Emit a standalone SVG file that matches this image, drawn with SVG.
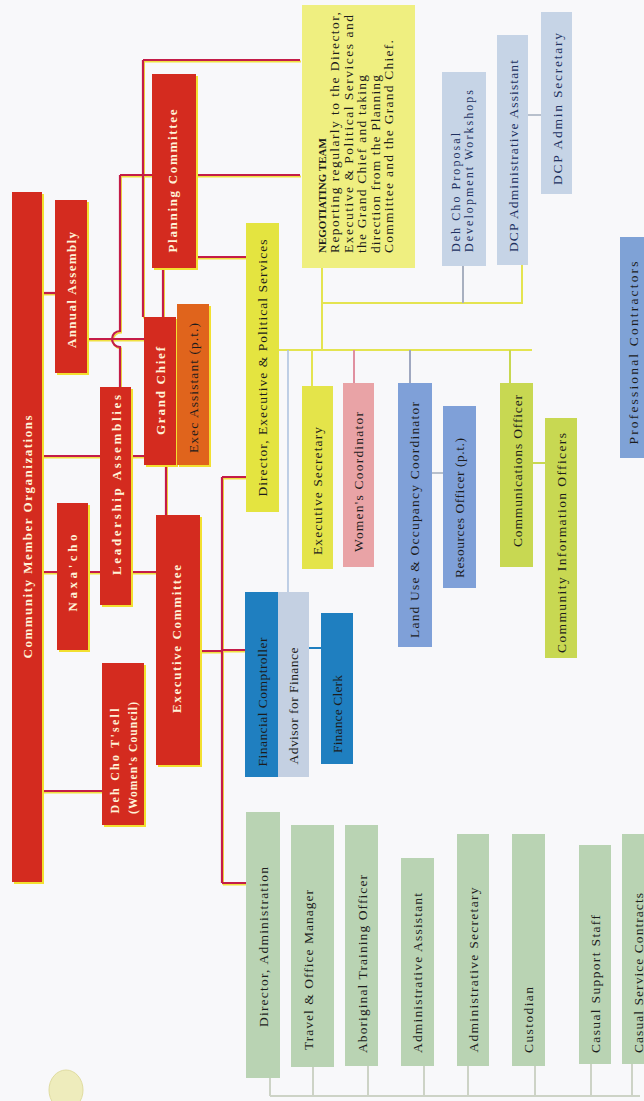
<svg xmlns="http://www.w3.org/2000/svg" width="644" height="1101" viewBox="0 0 644 1101">
<style>
text{font-family:"Liberation Serif","Times New Roman",serif;font-size:13.5px;fill:#1c1c1c}
.rt{font-weight:bold;fill:#fff3d8;font-size:13px}
.c{text-anchor:middle;dominant-baseline:central}
.red{fill:#d42b1f}
.sh{fill:#f2e030}
.rl{fill:none;stroke:#c41c48;stroke-width:2.2}
.yl{fill:none;stroke:#f0e040;stroke-width:2}
.yc{fill:none;stroke:#e4e450;stroke-width:2}
.gc{fill:none;stroke:#cdd3c6;stroke-width:2}
.grn{fill:#b9d3b3}
.lb{fill:#c6d4e6}
.blu{fill:#7fa0d8}
.dblu{fill:#1f7fc0}
.ygr{fill:#c8d852}
.yel{fill:#e4e440}
.nv{fill:#203060}
</style>
<rect x="0" y="0" width="644" height="1101" fill="#f8f8fa"/>
<ellipse cx="66" cy="1090" rx="17" ry="20" fill="#eeecbc" stroke="#e0dca0" stroke-width="1"/>

<g id="connectors">
  <g class="yl" transform="translate(1,1.5)">
    <path d="M42,293 H55"/>
    <path d="M42,456 H100 M131,456 H144"/>
    <path d="M42,572 H57 M88,572 H100 M131,572 H156"/>
    <path d="M42,791 H102"/>
    <path d="M87,339 H144"/>
    <path d="M120,175 V331 A8,8 0 0 0 120,347 V387"/>
    <path d="M120,175 H300"/>
    <path d="M143,60 V317 M143,60 H300"/>
    <path d="M163,268 V317"/>
    <path d="M196,257 H246"/>
    <path d="M166,465 V515"/>
    <path d="M200,651 H222 M222,477 V883 M222,477 H246 M222,883 H246 M222,650 H245"/>
  </g>
  <g class="rl">
    <path d="M42,293 H55"/>
    <path d="M42,456 H100 M131,456 H144"/>
    <path d="M42,572 H57 M88,572 H100 M131,572 H156"/>
    <path d="M42,791 H102"/>
    <path d="M87,339 H144"/>
    <path d="M120,175 V331 A8,8 0 0 0 120,347 V387"/>
    <path d="M120,175 H300"/>
    <path d="M143,60 V317 M143,60 H300"/>
    <path d="M163,268 V317"/>
    <path d="M196,257 H246"/>
    <path d="M166,465 V515"/>
    <path d="M200,651 H222 M222,477 V883 M222,477 H246 M222,883 H246 M222,650 H245"/>
  </g>
  <path class="yc" d="M279,350 H532"/>
  <path class="yc" d="M322,268 V350 M322,303 H522 V265"/>
  <path d="M463,266 V303" fill="none" stroke="#a8b0c0" stroke-width="2"/>
  <path class="yc" d="M312,350 V386"/>
  <path d="M354,350 V383" fill="none" stroke="#e090a0" stroke-width="2"/>
  <path d="M410,350 V383" fill="none" stroke="#a0a8c0" stroke-width="2"/>
  <path d="M510,350 V383" fill="none" stroke="#c8d850" stroke-width="2"/>
  <path d="M288,350 V592" fill="none" stroke="#b0c4e0" stroke-width="1.6"/>
  <path d="M528,115 H541" fill="none" stroke="#b8c0cc" stroke-width="2"/>
  <path d="M432,473 H443" fill="none" stroke="#b8c0cc" stroke-width="2"/>
  <path d="M533,463 H545" fill="none" stroke="#c8d850" stroke-width="2"/>
  <path d="M309,648 H321" fill="none" stroke="#1f7fc0" stroke-width="2"/>
  <path class="gc" d="M270,1096 H640 M270,1078 V1096 M313,1067 V1096 M368,1066 V1096 M424,1066 V1096 M468,1066 V1096 M535,1066 V1096 M591,1064 V1096 M632,1064 V1096"/>
</g>

<g id="cmo"><rect class="sh" x="14" y="194" width="30" height="690"/><rect class="red" x="12" y="192" width="30" height="690"/>
<text class="rt c" transform="translate(27.5,537) rotate(-90)" textLength="243">Community Member Organizations</text></g>
<g id="annual"><rect class="sh" x="57" y="202" width="32" height="173"/><rect class="red" x="55" y="200" width="32" height="173"/>
<text class="rt c" transform="translate(71,290) rotate(-90)" textLength="116">Annual Assembly</text></g>
<g id="leadership"><rect class="sh" x="102" y="389" width="31" height="218"/><rect class="red" x="100" y="387" width="31" height="218"/>
<text class="rt c" transform="translate(116,485) rotate(-90)" textLength="180">Leadership Assemblies</text></g>
<g id="naxacho"><rect class="sh" x="59" y="505" width="31" height="147"/><rect class="red" x="57" y="503" width="31" height="147"/>
<text class="rt c" transform="translate(72.5,573) rotate(-90)" textLength="77">Naxa'cho</text></g>
<g id="dehchotsell"><rect class="sh" x="104" y="665" width="42" height="162"/><rect class="red" x="102" y="663" width="42" height="162"/>
<text class="rt c" style="font-size:12px" transform="translate(115,761) rotate(-90)" textLength="105">Deh Cho T'sell</text>
<text class="rt c" style="font-size:11.5px" transform="translate(133,758) rotate(-90)" textLength="112">(Women's Council)</text></g>
<g id="execcommittee"><rect class="sh" x="158" y="517" width="44" height="250"/><rect class="red" x="156" y="515" width="44" height="250"/>
<text class="rt c" transform="translate(176,639) rotate(-90)" textLength="148">Executive Committee</text></g>
<g id="grandchief"><rect class="sh" x="146" y="319" width="32" height="148"/><rect class="red" x="144" y="317" width="32" height="148"/>
<text class="rt c" transform="translate(160,391) rotate(-90)" textLength="88">Grand Chief</text></g>
<g id="execassistant"><rect class="sh" x="179" y="306" width="32" height="161"/><rect x="177" y="304" width="32" height="161" fill="#e0641c"/>
<text class="c" transform="translate(193,388) rotate(-90)" textLength="130">Exec Assistant (p.t.)</text></g>
<g id="planning"><rect class="sh" x="154" y="76" width="44" height="194"/><rect class="red" x="152" y="74" width="44" height="194"/>
<text class="rt c" transform="translate(172,181) rotate(-90)" textLength="143">Planning Committee</text></g>

<g id="direxec"><rect class="yel" x="246" y="223" width="33" height="289"/>
<text class="c" transform="translate(262.5,368) rotate(-90)" textLength="257">Director, Executive &amp; Political Services</text></g>
<g id="negotiating"><rect x="302" y="5" width="113" height="263" fill="#efef80"/>
<text transform="translate(326,253) rotate(-90)" style="font-weight:bold;font-size:11px">NEGOTIATING TEAM</text>
<text transform="translate(339,253) rotate(-90)" textLength="241">Reporting regularly to the Director,</text>
<text transform="translate(352.5,253) rotate(-90)" textLength="238">Executive &amp; Political Services and</text>
<text transform="translate(366,253) rotate(-90)" textLength="178">the Grand Chief and taking</text>
<text transform="translate(379.5,253) rotate(-90)" textLength="178">direction from the Planning</text>
<text transform="translate(393,253) rotate(-90)" textLength="213">Committee and the Grand Chief.</text></g>
<g id="dcpworkshops"><rect class="lb" x="442" y="72" width="44" height="194"/>
<text class="nv" style="font-size:12px" transform="translate(460,252) rotate(-90)" textLength="119">Deh Cho Proposal</text>
<text class="nv" style="font-size:12px" transform="translate(473,252) rotate(-90)" textLength="162">Development Workshops</text></g>
<g id="dcpadminasst"><rect class="lb" x="497" y="35" width="31" height="230"/>
<text class="c nv" transform="translate(513,156) rotate(-90)" textLength="192">DCP Administrative Assistant</text></g>
<g id="dcpadminsec"><rect class="lb" x="541" y="12" width="31" height="182"/>
<text class="c nv" transform="translate(557,109) rotate(-90)" textLength="152">DCP Admin Secretary</text></g>
<g id="profcontractors"><rect x="620" y="237" width="30" height="221" fill="#7fa2d6"/>
<text class="c" transform="translate(633,353) rotate(-90)" textLength="183">Professional Contractors</text></g>

<g id="execsecretary"><rect x="302" y="386" width="31" height="183" fill="#e4e44a"/>
<text class="c" transform="translate(317.5,491) rotate(-90)" textLength="128">Executive Secretary</text></g>
<g id="womenscoord"><rect x="343" y="383" width="31" height="184" fill="#e9a3a6"/>
<text class="c" transform="translate(358.5,482) rotate(-90)" textLength="140">Women's Coordinator</text></g>
<g id="landuse"><rect class="blu" x="398" y="383" width="34" height="264"/>
<text class="c" transform="translate(414,520) rotate(-90)" textLength="236">Land Use &amp; Occupancy Coordinator</text></g>
<g id="resources"><rect class="blu" x="443" y="406" width="33" height="182"/>
<text class="c" transform="translate(459.5,508) rotate(-90)" textLength="140">Resources Officer (p.t.)</text></g>
<g id="commofficer"><rect class="ygr" x="500" y="383" width="33" height="184"/>
<text class="c" transform="translate(517,471) rotate(-90)" textLength="152">Communications Officer</text></g>
<g id="comminfo"><rect class="ygr" x="545" y="418" width="32" height="240"/>
<text class="c" transform="translate(561.5,543) rotate(-90)" textLength="220">Community Information Officers</text></g>

<g id="fincomptroller"><rect class="dblu" x="245" y="592" width="33" height="185"/>
<text class="c" transform="translate(262,702) rotate(-90)" textLength="129">Financial Comptroller</text></g>
<g id="advisorfinance"><rect x="278" y="592" width="31" height="185" fill="#c4d0e2"/>
<text class="c" transform="translate(293.5,706) rotate(-90)" textLength="117">Advisor for Finance</text></g>
<g id="financeclerk"><rect class="dblu" x="321" y="613" width="32" height="151"/>
<text class="c" transform="translate(337,714) rotate(-90)" textLength="78">Finance Clerk</text></g>

<g id="diradmin"><rect class="grn" x="246" y="812" width="34" height="266"/>
<text class="c" transform="translate(263,947) rotate(-90)" textLength="160">Director, Administration</text></g>
<g id="travel"><rect class="grn" x="291" y="825" width="43" height="242"/>
<text class="c" transform="translate(308,970) rotate(-90)" textLength="160">Travel &amp; Office Manager</text></g>
<g id="aboriginal"><rect class="grn" x="345" y="825" width="33" height="241"/>
<text class="c" transform="translate(362,964) rotate(-90)" textLength="178">Aboriginal Training Officer</text></g>
<g id="adminasst"><rect class="grn" x="401" y="858" width="33" height="208"/>
<text class="c" transform="translate(417.5,973) rotate(-90)" textLength="160">Administrative Assistant</text></g>
<g id="adminsec"><rect class="grn" x="457" y="834" width="32" height="232"/>
<text class="c" transform="translate(473,970) rotate(-90)" textLength="165">Administrative Secretary</text></g>
<g id="custodian"><rect class="grn" x="512" y="834" width="33" height="232"/>
<text class="c" transform="translate(528.5,1020) rotate(-90)" textLength="66">Custodian</text></g>
<g id="casualsupport"><rect class="grn" x="579" y="845" width="32" height="219"/>
<text class="c" transform="translate(595,984) rotate(-90)" textLength="138">Casual Support Staff</text></g>
<g id="casualservice"><rect class="grn" x="622" y="834" width="30" height="230"/>
<text class="c" transform="translate(638,973) rotate(-90)" textLength="160">Casual Service Contracts</text></g>
</svg>
